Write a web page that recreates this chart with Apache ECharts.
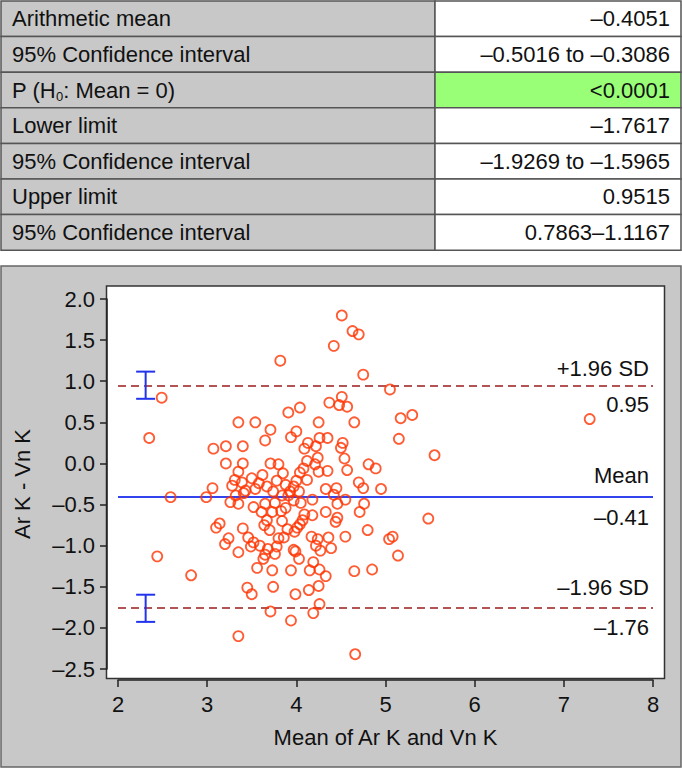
<!DOCTYPE html>
<html>
<head>
<meta charset="utf-8">
<script src="https://cdn.jsdelivr.net/npm/echarts@6/dist/echarts.min.js"></script>
<style>
html,body{margin:0;padding:0;background:#fff;}
#c{width:682px;height:769px;}
</style>
</head>
<body>
<div id="c"></div>
<script>
// ---------- data ----------
const tableLabels = ['Arithmetic mean', '95% Confidence interval', 'P (H{s|0}: Mean = 0)', 'Lower limit',
  '95% Confidence interval', 'Upper limit', '95% Confidence interval'];
const tableValues = ['\u20130.4051', '\u20130.5016 to \u20130.3086', '<0.0001', '\u20131.7617',
  '\u20131.9269 to \u20131.5965', '0.9515', '0.7863\u20131.1167'];
const highlightRow = 2;

const meanDiff = -0.4051;
const upperLoA = 0.9515;
const lowerLoA = -1.7617;
const upperCI = [0.7863, 1.1167];
const lowerCI = [-1.9269, -1.5965];
const ciX = 2.31;

const upperLabels = ['+1.96 SD', '0.95'];
const meanLabels = ['Mean', '\u20130.41'];
const lowerLabels = ['\u20131.96 SD', '\u20131.76'];

const xTicks = [2, 3, 4, 5, 6, 7, 8];
const yTicks = [-2.5, -2.0, -1.5, -1.0, -0.5, 0.0, 0.5, 1.0, 1.5, 2.0];

// Mean of Ar K and Vn K
const meanVals = [
  4.51, 4.63, 4.70, 4.42, 3.82, 4.75, 5.05, 2.49, 4.51, 4.37,
  4.48, 4.57, 4.04, 3.91, 5.17, 5.30, 7.29, 3.35, 3.54, 4.25,
  4.65, 3.71, 4.00, 3.94, 2.35, 3.65, 4.26, 4.35, 5.15, 4.13,
  4.52, 3.07, 3.21, 3.40, 4.09, 4.22, 4.50, 4.24, 4.54, 4.12,
  5.55, 3.21, 3.40, 3.71, 3.80, 4.21, 4.81, 4.89, 4.57, 4.08,
  4.04, 4.25, 4.35, 3.35, 3.85, 3.62, 4.12, 4.00, 3.31, 3.28,
  3.39, 3.50, 3.58, 3.67, 3.78, 3.88, 3.97, 4.70, 4.75, 4.95,
  3.06, 2.59, 2.99, 4.33, 4.45, 3.43, 3.54, 3.74, 3.93, 4.03,
  3.32, 3.84, 3.91, 4.42, 4.18, 4.55, 3.97, 4.05, 4.46, 4.76,
  3.26, 3.35, 3.41, 3.52, 3.65, 3.76, 3.61, 3.73, 3.83, 3.88,
  3.67, 3.84, 3.14, 3.10, 3.64, 3.70, 3.40, 3.24, 3.20, 3.46,
  3.52, 3.59, 3.49, 3.68, 3.80, 3.86, 3.78, 3.35, 3.65, 3.76,
  3.63, 3.56, 3.73, 4.09, 4.18, 4.07, 4.04, 4.01, 3.98, 3.90,
  4.33, 4.71, 4.46, 4.44, 5.48, 4.80, 4.55, 4.36, 4.17, 4.24,
  4.22, 4.27, 4.39, 3.97, 3.99, 4.03, 4.19, 4.26, 4.15, 4.65,
  4.85, 5.04, 5.08, 5.14, 2.44, 2.82, 3.94, 4.33, 4.25, 4.14,
  3.74, 3.45, 3.50, 3.99, 4.26, 3.71, 4.19, 3.94, 3.35, 4.66
];
// Ar K - Vn K
const diffVals = [
  1.80, 1.61, 1.57, 1.43, 1.25, 1.08, 0.90, 0.80, 0.81, 0.74,
  0.71, 0.69, 0.68, 0.62, 0.55, 0.59, 0.54, 0.50, 0.50, 0.50,
  0.50, 0.41, 0.39, 0.32, 0.31, 0.28, 0.31, 0.31, 0.30, 0.25,
  0.25, 0.18, 0.21, 0.21, 0.18, 0.21, 0.19, 0.07, 0.06, 0.03,
  0.10, 0.00, 0.00, 0.00, -0.01, -0.01, -0.01, -0.06, -0.08, -0.06,
  -0.11, -0.10, -0.09, -0.10, -0.12, -0.14, -0.20, -0.21, -0.20, -0.27,
  -0.23, -0.18, -0.24, -0.28, -0.21, -0.26, -0.28, -0.23, -0.30, -0.31,
  -0.30, -0.41, -0.41, -0.31, -0.30, -0.33, -0.31, -0.34, -0.34, -0.34,
  -0.39, -0.39, -0.39, -0.38, -0.44, -0.44, -0.45, -0.48, -0.49, -0.49,
  -0.47, -0.49, -0.36, -0.53, -0.49, -0.48, -0.59, -0.59, -0.58, -0.54,
  -0.69, -0.70, -0.73, -0.78, -0.75, -0.81, -0.79, -0.91, -0.98, -0.90,
  -0.96, -1.00, -1.01, -1.04, -0.91, -0.90, -1.01, -1.08, -1.11, -1.10,
  -1.16, -1.27, -1.30, -0.62, -0.63, -0.69, -0.74, -0.78, -0.83, -0.80,
  -0.59, -0.59, -0.66, -0.71, -0.67, -0.81, -0.89, -0.90, -0.89, -0.92,
  -1.00, -1.06, -1.03, -1.05, -1.07, -1.16, -1.20, -1.29, -1.30, -1.31,
  -1.29, -0.92, -0.89, -1.12, -1.13, -1.36, -1.30, -1.37, -1.49, -1.54,
  -1.50, -1.51, -1.59, -1.59, -1.71, -1.80, -1.82, -1.91, -2.10, -2.32
];

// ---------- layout / style ----------
const W = 682, H = 769;
const FONT = '"Liberation Sans", Arial, sans-serif';
const GRAY = '#c8c8c8';
const grid = { left: 118, top: 299, width: 535, height: 370 };
const axisOffset = 11;
const boxPad = { left: 11.5, right: 11.5, top: 13, bottom: 9.5 };
const panel = { x: 1, y: 266, w: 680, h: 501 };
const rowH = 35.6, tableTop = 1, colSplit = 435;

const fmt = v => (Math.abs(v) < 1e-9 ? 0 : v).toFixed(1).replace('-', '\u2013');

// ---------- table ----------
const graphics = [];
tableLabels.forEach((lab, i) => {
  const y = tableTop + i * rowH;
  graphics.push({ type: 'rect', shape: { x: 1, y: y, width: colSplit - 1, height: rowH },
    style: { fill: GRAY, stroke: '#555', lineWidth: 1.5 } });
  graphics.push({ type: 'rect', shape: { x: colSplit, y: y, width: W - 1 - colSplit, height: rowH },
    style: { fill: i === highlightRow ? '#99ff77' : '#fff', stroke: '#555', lineWidth: 1.5 } });
  graphics.push({ type: 'text', x: 12, y: y + rowH / 2,
    style: { text: lab, fontSize: 22, fontFamily: FONT, fill: '#111', verticalAlign: 'middle', align: 'left',
      rich: { s: { fontSize: 13, fontFamily: FONT, fill: '#111', padding: [12, 0, 0, 0] } } } });
  graphics.push({ type: 'text', x: 670, y: y + rowH / 2,
    style: { text: tableValues[i], fontSize: 22, fontFamily: FONT, fill: '#111', verticalAlign: 'middle', align: 'right' } });
});

// ---------- chart ----------
const chart = echarts.init(document.getElementById('c'), null, { renderer: 'svg', width: W, height: H });

const boxGrid = {
  left: grid.left - boxPad.left, top: grid.top - boxPad.top,
  width: grid.width + boxPad.left + boxPad.right, height: grid.height + boxPad.top + boxPad.bottom
};

const labelStyle = { fontSize: 22, fontFamily: FONT, color: '#111' };
const SD_COLOR = '#9b1c1c', MEAN_COLOR = '#3344ee';

function levelItems(y, texts, color, type, width, dUp, dDown) {
  return [
    { yAxis: y, lineStyle: { color: color, type: type, width: width },
      label: Object.assign({ show: true, position: 'insideEndTop', formatter: texts[0], distance: [4, dUp] }, labelStyle) },
    { yAxis: y, lineStyle: { color: 'rgba(255,255,255,0)', type: 'solid', width: 1 },
      label: Object.assign({ show: true, position: 'insideEndBottom', formatter: texts[1], distance: [4, dDown] }, labelStyle) }
  ];
}

const option = {
  animation: false,
  backgroundColor: '#fff',
  graphic: [
    { type: 'group', children: graphics }
  ],
  grid: [
    Object.assign({ show: false }, grid),
    { left: boxGrid.left, top: boxGrid.top, width: boxGrid.width, height: boxGrid.height, show: true,
      backgroundColor: '#fff', borderColor: '#333', borderWidth: 1.5, z: 1 },
    { left: panel.x, top: panel.y, width: panel.w, height: panel.h, show: true,
      backgroundColor: GRAY, borderColor: '#666', borderWidth: 1.5, z: 0 }
  ],
  xAxis: [
    { type: 'value', gridIndex: 0, min: xTicks[0], max: xTicks[xTicks.length - 1], interval: 1,
      offset: axisOffset, z: 3,
      name: 'Mean of Ar K and Vn K', nameLocation: 'middle', nameGap: 46,
      nameTextStyle: { fontSize: 22, fontFamily: FONT, color: '#111' },
      axisLine: { show: true, onZero: false, lineStyle: { color: '#222', width: 1.5 } },
      axisTick: { show: true, length: 7, lineStyle: { color: '#222', width: 1.5 } },
      axisLabel: { fontSize: 22, fontFamily: FONT, color: '#111', margin: 13 },
      splitLine: { show: false } },
    { type: 'value', gridIndex: 1, show: false },
    { type: 'value', gridIndex: 2, show: false }
  ],
  yAxis: [
    { type: 'value', gridIndex: 0, min: yTicks[0], max: yTicks[yTicks.length - 1], interval: 0.5,
      offset: axisOffset, z: 3,
      name: 'Ar K - Vn K', nameLocation: 'middle', nameGap: 74,
      nameTextStyle: { fontSize: 22, fontFamily: FONT, color: '#111' },
      axisLine: { show: true, onZero: false, lineStyle: { color: '#222', width: 1.5 } },
      axisTick: { show: true, length: 7, lineStyle: { color: '#222', width: 1.5 } },
      axisLabel: { fontSize: 22, fontFamily: FONT, color: '#111', margin: 12, formatter: fmt },
      splitLine: { show: false } },
    { type: 'value', gridIndex: 1, show: false },
    { type: 'value', gridIndex: 2, show: false }
  ],
  series: [
    {
      type: 'scatter', xAxisIndex: 0, yAxisIndex: 0, z: 5,
      symbol: 'circle', symbolSize: 10,
      itemStyle: { color: 'rgba(0,0,0,0)', borderColor: '#ff3300', borderWidth: 1.8 },
      data: meanVals.map((m, i) => [m, diffVals[i]]),
      markLine: {
        symbol: 'none', silent: true, animation: false,
        data: [].concat(
          levelItems(upperLoA, upperLabels, SD_COLOR, [8, 5], 1.6, 6, 8),
          levelItems(meanDiff, meanLabels, MEAN_COLOR, 'solid', 2, 11, 9),
          levelItems(lowerLoA, lowerLabels, SD_COLOR, [8, 5], 1.6, 9.5, 8)
        )
      }
    },
    {
      type: 'custom', xAxisIndex: 0, yAxisIndex: 0, z: 6, silent: true,
      data: [[ciX, upperCI[0], upperCI[1]], [ciX, lowerCI[0], lowerCI[1]]],
      renderItem: function (params, api) {
        const x = api.value(0);
        const lo = api.coord([x, api.value(1)]);
        const hi = api.coord([x, api.value(2)]);
        const hw = 9.5;
        const st = { stroke: '#2233ee', lineWidth: 2 };
        return { type: 'group', children: [
          { type: 'line', shape: { x1: lo[0], y1: lo[1], x2: hi[0], y2: hi[1] }, style: st },
          { type: 'line', shape: { x1: lo[0] - hw, y1: lo[1], x2: lo[0] + hw, y2: lo[1] }, style: st },
          { type: 'line', shape: { x1: hi[0] - hw, y1: hi[1], x2: hi[0] + hw, y2: hi[1] }, style: st }
        ] };
      }
    }
  ]
};
chart.setOption(option);
</script>
</body>
</html>
